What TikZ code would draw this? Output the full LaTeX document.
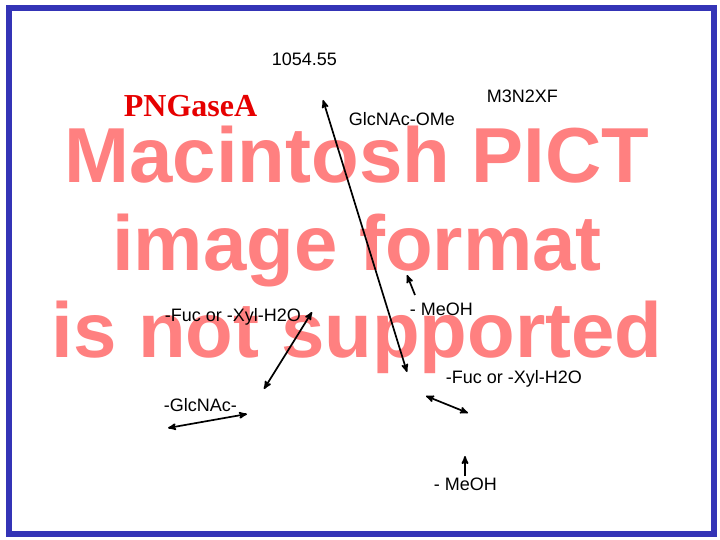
\documentclass[tikz,border=0pt]{standalone}
\usepackage{fontspec}
\setmainfont{Liberation Sans}
\newfontfamily\enzfont{Liberation Serif}
\usepackage{xcolor}
\usepackage{tikz}
\usetikzlibrary{arrows}
\definecolor{frameblue}{RGB}{52,52,182}
\definecolor{wmred}{RGB}{255,128,128}
\definecolor{enzred}{RGB}{230,0,0}
\tikzset{
	lbl/.style={inner sep=0pt,anchor=base west,font=\fontsize{18}{18}\selectfont},
	enz/.style={inner sep=0pt,anchor=base west,text=enzred,font=\enzfont\bfseries\fontsize{32}{32}\selectfont},
	wmark/.style={inner sep=0pt,anchor=base,text=wmred,font=\bfseries\fontsize{78}{78}\selectfont}
}

\begin{document}
\begin{tikzpicture}[x=1pt,y=-1pt,>=stealth',line width=1.7pt]
	    \useasboundingbox (0,0) rectangle (720,540);
	    \fill[white] (0,0) rectangle (720,540);
	    \draw[frameblue,line width=6pt] (9,8) rectangle (714,534);

	    % watermark
	    \node[wmark] (wm1) at (357,183) {Macintosh PICT};
	    \node[wmark] (wm2) at (357,270) {image format};
	    \node[wmark] (wm3) at (357,357) {is not supported};

	    \node[lbl] (mass) at (271,66) {1054.55};
	    \node[enz] (png) at (123,117) {PNGaseA};
	    \node[lbl] (m3n2xf) at (486,103) {M3N2XF};
	    \node[lbl] (ome) at (348,126) {GlcNAc-OMe};
	    \node[lbl] (fucL) at (164,321) {-Fuc or -Xyl-H2O};
	    \node[lbl] (meohU) at (409,315) {- MeOH};
	    \node[lbl] (fucR) at (445,383) {-Fuc or -Xyl-H2O};
	    \node[lbl] (glc) at (163,411) {-GlcNAc-};
	    \node[lbl] (meohL) at (433,490) {- MeOH};

	    \coordinate (topA) at (323,100);
	    \coordinate (topB) at (407,372);
	    \coordinate (meA) at (415,295);
	    \coordinate (meB) at (407,275);
	    \coordinate (fuA) at (264,389);
	    \coordinate (fuB) at (312,312);
	    \coordinate (glA) at (168,428);
	    \coordinate (glB) at (247,414);
	    \coordinate (frA) at (426,396);
	    \coordinate (frB) at (468,413);
	    \coordinate (mlA) at (465,476);
	    \coordinate (mlB) at (465,456);

	    \draw[<->] (topA) -- (topB);
	    \draw[->] (meA) -- (meB);
	    \draw[<->] (fuA) -- (fuB);
	    \draw[<->] (glA) -- (glB);
	    \draw[<->] (frA) -- (frB);
	    \draw[->] (mlA) -- (mlB);
\end{tikzpicture}
\end{document}
